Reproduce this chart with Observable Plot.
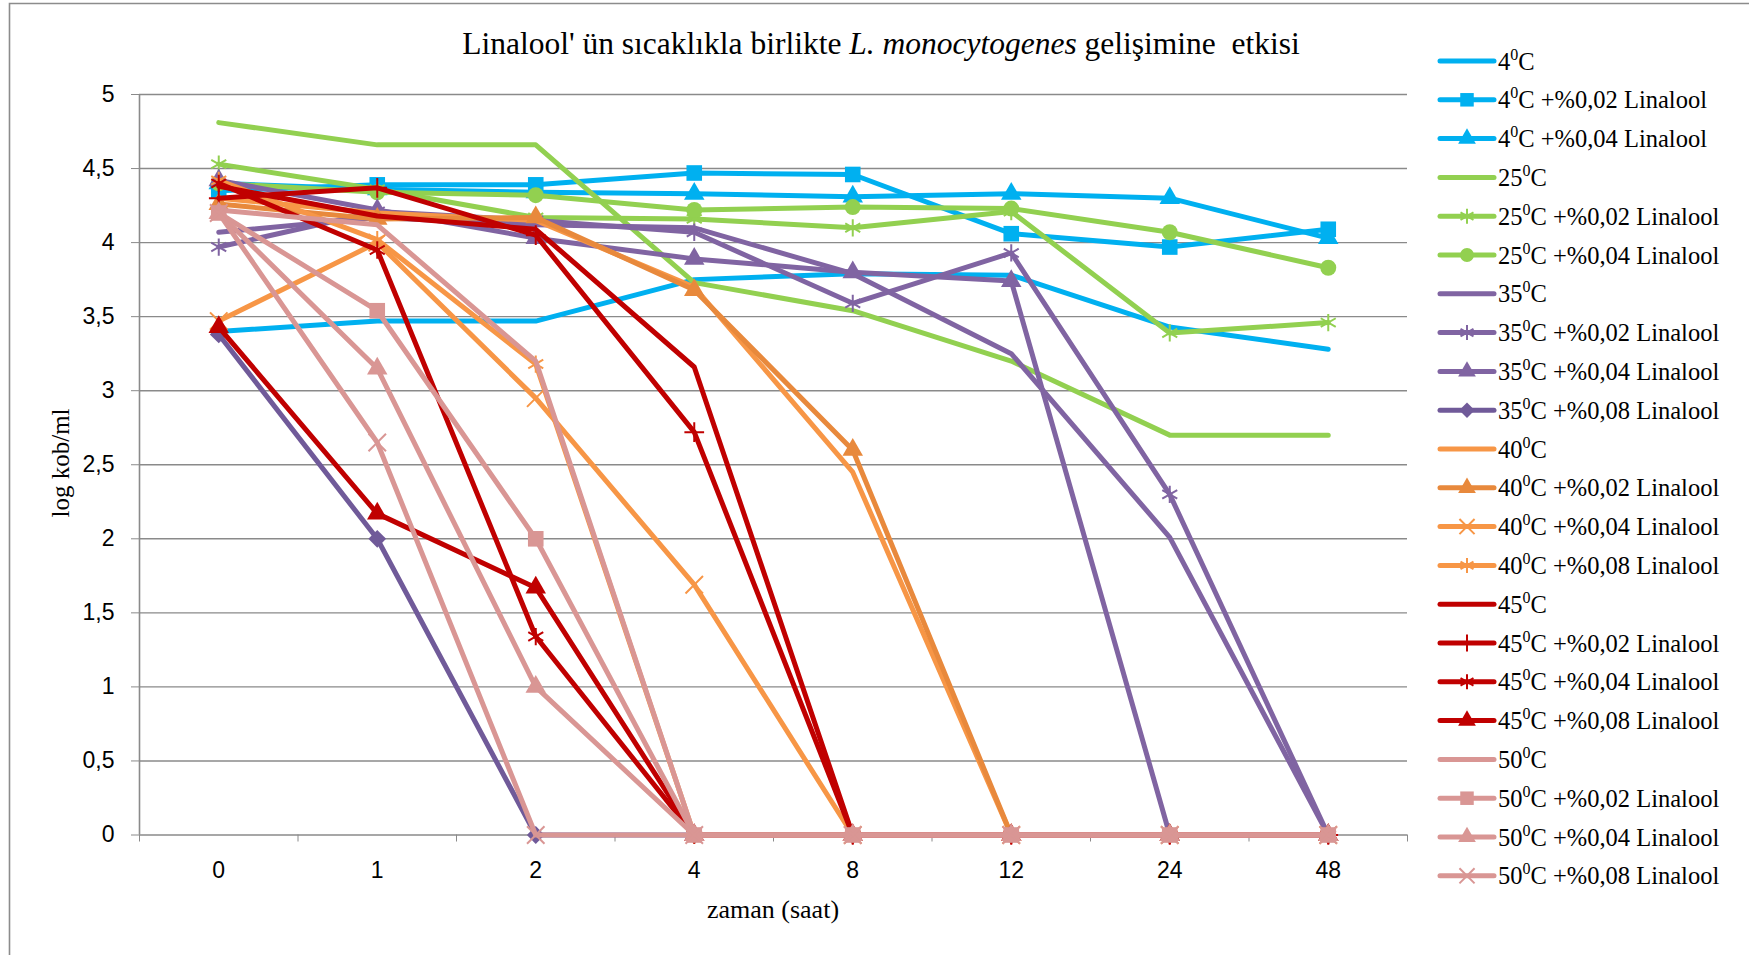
<!DOCTYPE html>
<html>
<head>
<meta charset="utf-8">
<script src="https://cdn.jsdelivr.net/npm/d3@7"></script>
<script src="https://cdn.jsdelivr.net/npm/@observablehq/plot@0.6"></script>
<style>
  html, body { margin: 0; padding: 0; background: #fff; }
  #chart { position: relative; width: 1749px; height: 955px; overflow: hidden; }
</style>
</head>
<body>
<div id="chart"></div>
<script>
// Sampling times (hours) – categorical x axis
const hours = ["0", "1", "2", "4", "8", "12", "24", "48"];
const yTicks = [0, 0.5, 1, 1.5, 2, 2.5, 3, 3.5, 4, 4.5, 5];

// log cfu/ml per temperature and linalool dose
const t4      = [3.40, 3.47, 3.47, 3.75, 3.79, 3.78, 3.43, 3.28];
const t4_02   = [4.35, 4.39, 4.39, 4.47, 4.46, 4.06, 3.97, 4.09];
const t4_04   = [4.40, 4.36, 4.34, 4.33, 4.31, 4.33, 4.30, 4.03];
const t25     = [4.81, 4.66, 4.66, 3.73, 3.54, 3.20, 2.70, 2.70];
const t25_02  = [4.53, 4.36, 4.17, 4.16, 4.10, 4.21, 3.39, 3.46];
const t25_04  = [4.40, 4.34, 4.32, 4.22, 4.24, 4.23, 4.07, 3.83];
const t35     = [4.07, 4.17, 4.12, 4.10, 3.79, 3.25, 2.01, 0];
const t35_02  = [3.97, 4.21, 4.15, 4.07, 3.59, 3.93, 2.30, 0];
const t35_04  = [4.42, 4.22, 4.03, 3.89, 3.80, 3.74, 0, 0];
const t35_08  = [3.38, 2.00, 0, 0, 0, 0, 0, 0];
const t40     = [4.30, 4.20, 4.15, 3.70, 2.45, 0, 0, 0];
const t40_02  = [4.26, 4.16, 4.17, 3.68, 2.60, 0, 0, 0];
const t40_04  = [3.47, 4.00, 2.95, 1.69, 0, 0, 0, 0];
const t40_08  = [4.42, 4.02, 3.18, 0, 0, 0, 0, 0];
const t45     = [4.38, 4.18, 4.09, 3.16, 0, 0, 0, 0];
const t45_02  = [4.30, 4.37, 4.05, 2.72, 0, 0, 0, 0];
const t45_04  = [4.40, 3.95, 1.34, 0, 0, 0, 0, 0];
const t45_08  = [3.43, 2.17, 1.67, 0, 0, 0, 0, 0];
const t50     = [4.22, 4.12, 3.20, 0, 0, 0, 0, 0];
const t50_02  = [4.20, 3.54, 2.00, 0, 0, 0, 0, 0];
const t50_04  = [4.20, 3.15, 1.00, 0, 0, 0, 0, 0];
const t50_08  = [4.20, 2.65, 0, 0, 0, 0, 0, 0];

const temps = ["4", "4", "4", "25", "25", "25", "35", "35", "35", "35",
               "40", "40", "40", "40", "45", "45", "45", "45", "50", "50", "50", "50"];
const doses = [null, "0,02", "0,04", null, "0,02", "0,04", null, "0,02", "0,04", "0,08",
               null, "0,02", "0,04", "0,08", null, "0,02", "0,04", "0,08", null, "0,02", "0,04", "0,08"];
const valueSets = [t4, t4_02, t4_04, t25, t25_02, t25_04, t35, t35_02, t35_04, t35_08,
                   t40, t40_02, t40_04, t40_08, t45, t45_02, t45_04, t45_08, t50, t50_02, t50_04, t50_08];

// styling per series: colour and marker symbol
const blue = "#00B0F0", green = "#92D050", purple = "#8064A2", purpleDark = "#705A99",
      orange = "#F79646", orangeDark = "#E8893C", red = "#C00000", pink = "#D99694";
const styles = [
  [blue, null], [blue, "square"], [blue, "triangle"],
  [green, null], [green, "asterisk"], [green, "circle"],
  [purple, null], [purple, "asterisk"], [purple, "triangle"], [purpleDark, "diamond2"],
  [orange, null], [orangeDark, "triangle"], [orange, "times"], [orange, "asterisk"],
  [red, null], [red, "plus"], [red, "asterisk"], [red, "triangle"],
  [pink, null], [pink, "square"], [pink, "triangle"], [pink, "times"]
];
const strokeSymbols = new Set(["asterisk", "times", "plus"]);
const symbolR = {square: 8.8, triangle: 7.6, circle: 8, asterisk: 8.2, times: 8, plus: 6.4, diamond2: 8};
const symbolTypes = {square: d3.symbolSquare, triangle: d3.symbolTriangle, circle: d3.symbolCircle,
                     asterisk: d3.symbolAsterisk, times: d3.symbolTimes, plus: d3.symbolPlus,
                     diamond2: d3.symbolDiamond2};

const series = valueSets.map((values, k) => ({
  temp: temps[k], dose: doses[k], color: styles[k][0], symbol: styles[k][1],
  rows: values.map((v, i) => ({i, hour: hours[i], v}))
}));

const W = 1749, H = 955;
const frameLeft = 139, frameRight = 1407, frameTop = 94, frameBottom = 834.5;

const marks = [
  Plot.gridY(yTicks.filter(d => d > 0), {stroke: "#8a8a8a", strokeOpacity: 1, strokeWidth: 1.4}),
  Plot.ruleY([0], {stroke: "#8a8a8a", strokeWidth: 1.6}),
  Plot.ruleX([-0.5], {stroke: "#8a8a8a", strokeWidth: 1.6}),
  Plot.axisY({ticks: yTicks, tickSize: 8, tickPadding: 17, stroke: "#8a8a8a", fill: "#000",
              tickFormat: d => String(d).replace(".", ","), label: null}),
  Plot.axisX({ticks: d3.range(-0.5, 8, 1), tickSize: 7, stroke: "#8a8a8a", tickFormat: () => "", label: null}),
  Plot.axisX({ticks: d3.range(0, 8), tickSize: 0, tickPadding: 27, fill: "#000",
              tickFormat: i => hours[i], label: null})
];

for (const s of series) {
  marks.push(Plot.line(s.rows, {x: "i", y: "v", stroke: s.color, strokeWidth: 5,
                                strokeLinejoin: "round", strokeLinecap: "round"}));
  if (s.symbol) {
    const opts = {x: "i", y: "v", symbol: () => s.symbol, r: symbolR[s.symbol]};
    if (strokeSymbols.has(s.symbol)) Object.assign(opts, {stroke: s.color, strokeWidth: 2, fill: "none"});
    else Object.assign(opts, {fill: s.color, stroke: "none"});
    marks.push(Plot.dot(s.rows, opts));
  }
}

const chart = Plot.plot({
  width: W, height: H,
  marginLeft: frameLeft, marginRight: W - frameRight, marginTop: frameTop, marginBottom: H - frameBottom,
  x: {type: "linear", domain: [-0.5, 7.5]},
  y: {domain: [0, 5]},
  symbol: {type: "identity"},
  style: {fontFamily: "'Liberation Sans', Arial, sans-serif", fontSize: "23px", background: "#fff", overflow: "visible"},
  marks
});
document.getElementById("chart").appendChild(chart);

// Chart frame, title, axis titles and legend drawn on the same svg
const svg = d3.select(chart);
const serif = "'Liberation Serif', 'Times New Roman', serif";

svg.append("path").attr("d", `M9.5,${H + 5} V3.5 H${W + 5}`)
  .attr("fill", "none").attr("stroke", "#8c8c8c").attr("stroke-width", 1.6);

const title = svg.append("text").attr("x", 881).attr("y", 54).attr("text-anchor", "middle")
  .attr("font-family", serif).attr("font-size", 31.5).attr("fill", "#000");
title.append("tspan").text("Linalool' ün sıcaklıkla birlikte ");
title.append("tspan").attr("font-style", "italic").text("L. monocytogenes");
title.append("tspan").text(" gelişimine  etkisi");

svg.append("text").attr("transform", "translate(69,463) rotate(-90)").attr("text-anchor", "middle")
  .attr("font-family", serif).attr("font-size", 25).attr("fill", "#000").text("log kob/ml");
svg.append("text").attr("x", 773).attr("y", 918).attr("text-anchor", "middle")
  .attr("font-family", serif).attr("font-size", 26).attr("fill", "#000").text("zaman (saat)");

const legend = svg.append("g").attr("font-family", serif).attr("font-size", 24.5)
  .attr("fill", "#000").attr("text-anchor", "start");
series.forEach((s, k) => {
  const cy = 61 + k * 38.8;
  const g = legend.append("g").attr("transform", `translate(0,${cy})`);
  g.append("line").attr("x1", 1440).attr("x2", 1494).attr("stroke", s.color)
    .attr("stroke-width", 5).attr("stroke-linecap", "round");
  if (s.symbol) {
    const r = symbolR[s.symbol];
    const p = g.append("path").attr("transform", "translate(1467,0)")
      .attr("d", d3.symbol(symbolTypes[s.symbol], Math.PI * r * r * 0.75)());
    if (strokeSymbols.has(s.symbol)) p.attr("fill", "none").attr("stroke", s.color).attr("stroke-width", 2);
    else p.attr("fill", s.color);
  }
  const t = g.append("text").attr("x", 1498).attr("y", 8.5);
  t.append("tspan").text(s.temp);
  t.append("tspan").attr("font-size", 16).attr("dy", -10).text("0");
  t.append("tspan").attr("dy", 10).text("C");
  if (s.dose) t.append("tspan").text(` +%${s.dose} Linalool`);
});
</script>
</body>
</html>
